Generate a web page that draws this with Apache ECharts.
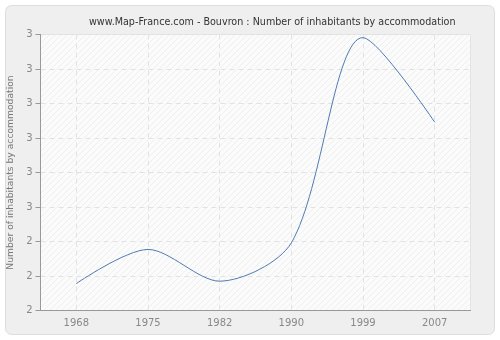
<!DOCTYPE html>
<html><head><meta charset="utf-8">
<script src="https://cdn.jsdelivr.net/npm/echarts@6/dist/echarts.min.js"></script>
<style>html,body{margin:0;padding:0;background:#fff}#c{width:500px;height:340px}</style>
</head><body><div id="c"></div>
<script>
var years = ['1968','1975','1982','1990','1999','2007'];
var values = [2.278, 2.377, 2.285, 2.396, 2.991, 2.746];
var titleText = 'www.Map-France.com - Bouvron : Number of inhabitants by accommodation';
var yName = 'Number of inhabitants by accommodation';

var pc = document.createElement('canvas');
pc.width = 6; pc.height = 6;
var g = pc.getContext('2d');
g.fillStyle = '#fbfbfb'; g.fillRect(0,0,6,6);
g.strokeStyle = '#efefef'; g.lineWidth = 1;
g.beginPath(); g.moveTo(0,6); g.lineTo(6,0); g.moveTo(-1,1); g.lineTo(1,-1); g.moveTo(5,7); g.lineTo(7,5); g.stroke();

var chart = echarts.init(document.getElementById('c'), null, {renderer:'canvas'});
chart.setOption({
  backgroundColor: '#ffffff',
  animation: false,
  graphic: [{
    type: 'rect', z: -10, silent: true,
    shape: {x: 5.5, y: 5.5, width: 489, height: 329, r: 6},
    style: {fill: '#efefef', stroke: '#dddddd', lineWidth: 1}
  }],
  title: {
    text: titleText, left: 84, top: 12,
    textStyle: {fontFamily: 'DejaVu Sans', fontSize: 9.6, fontWeight: 'normal', color: '#333'}
  },
  grid: {
    left: 40.5, right: 29.5, top: 34.5, bottom: 29.5, show: true,
    outerBoundsMode: 'none', containLabel: false,
    backgroundColor: {image: pc, repeat: 'repeat'},
    borderColor: '#e4e4e4', borderWidth: 1
  },
  xAxis: {
    type: 'category', data: years, boundaryGap: true,
    axisLine: {lineStyle: {color: '#999', width: 1}},
    axisTick: {alignWithLabel: true, length: 5, lineStyle: {color: '#999'}},
    axisLabel: {color: '#888', fontFamily: 'DejaVu Sans', fontSize: 10, margin: 8},
    splitLine: {show: true, alignWithLabel: true, lineStyle: {color: '#e2e2e2', type: [5,4]}}
  },
  yAxis: {
    type: 'value', min: 2.2, max: 3.0, interval: 0.1,
    name: yName, nameLocation: 'middle', nameGap: 23,
    nameTextStyle: {color: '#777', fontFamily: 'DejaVu Sans', fontSize: 9.2},
    axisLine: {show: true, lineStyle: {color: '#999', width: 1}},
    axisTick: {show: true, length: 5, lineStyle: {color: '#999'}},
    axisLabel: {color: '#888', fontFamily: 'DejaVu Sans', fontSize: 10, margin: 8,
      formatter: function(v){ return String(Math.round(Math.round(v*10)/10)); }},
    splitLine: {show: true, lineStyle: {color: '#e2e2e2', type: [5,4]}}
  },
  series: [{
    type: 'line', data: values, smooth: 0.3, showSymbol: false, symbol: 'none',
    lineStyle: {color: '#4f7bb2', width: 1}
  }]
});
</script></body></html>
